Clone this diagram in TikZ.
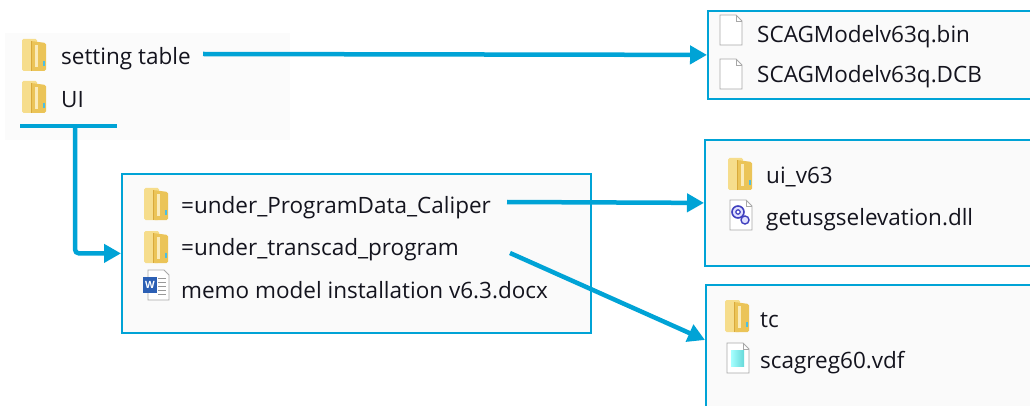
\documentclass[tikz,border=0pt]{standalone}
\usepackage{fontspec}
\setmainfont{Open Sans}
\usetikzlibrary{arrows.meta,calc}
\definecolor{lineblue}{HTML}{00A3D6}
\definecolor{boxbg}{HTML}{FAFAFA}
\definecolor{tlbg}{HTML}{FBFBFB}
\definecolor{foldA}{HTML}{F6DD8C}
\definecolor{foldB}{HTML}{EBC458}
\definecolor{foldC}{HTML}{D9A93A}
\definecolor{txt}{HTML}{14141E}
\definecolor{pagegray}{HTML}{A8A8A8}
\definecolor{wordblue}{HTML}{2B5FB4}
\tikzset{
  flabel/.style={anchor=base west, inner sep=0pt, font=\fontsize{22.5}{26}\selectfont, text=txt},
  boxnode/.style={draw=lineblue, line width=1.8pt, fill=boxbg, anchor=north west, inner sep=0pt},
  conn/.style={draw=lineblue, line width=4.5pt, rounded corners=4pt, -{Triangle[length=17pt,width=18pt]}},
  bar/.style={draw=lineblue, line width=4.5pt},
  folder/.pic={
    \fill[foldA, rounded corners=1.5pt] (-12,-16) rectangle (3,16);
    \fill[foldB, rounded corners=1.5pt] (-3,-14) -- (12,-12) -- (12,16) -- (-3,16) -- cycle;
    \fill[foldC] (-3.5,-14) rectangle (-2,16);
    \fill[foldA!60!white] (1,-10) rectangle (4,12);
    \fill[lineblue!70] (8.5,6) rectangle (10.5,11);
  },
  page/.pic={
    \draw[pagegray, fill=white, line width=0.9pt] (-11,-15) -- (5,-15) -- (11,-9) -- (11,15) -- (-11,15) -- cycle;
    \draw[pagegray, line width=0.9pt] (5,-15) -- (5,-9) -- (11,-9);
  },
  wordpage/.pic={
    \draw[pagegray, fill=white, line width=0.9pt] (-8,-15) -- (8,-15) -- (13,-10) -- (13,15) -- (-8,15) -- cycle;
    \foreach \yy in {-7,-3,1,5,9} \draw[gray!80, line width=0.8pt] (2,\yy) -- (10,\yy);
    \fill[wordblue] (-13,-8) rectangle (1,8);
    \node[text=white, font=\bfseries\fontsize{10}{10}\selectfont, inner sep=0pt] at (-6,0) {W};
  },
  dllpage/.pic={
    \draw[pagegray, fill=white, line width=0.9pt] (-11,-15) -- (5,-15) -- (11,-9) -- (11,15) -- (-11,15) -- cycle;
    \draw[pagegray, line width=0.9pt] (5,-15) -- (5,-9) -- (11,-9);
    \draw[blue!50!gray, line width=1.6pt, fill=blue!12] (-3,-3) circle (6);
    \draw[blue!50!gray, line width=1.2pt, fill=white] (-3,-3) circle (2.2);
    \draw[blue!50!gray, line width=1.4pt, fill=blue!12] (4,5) circle (4);
  },
  vdfpage/.pic={
    \draw[pagegray, fill=white, line width=0.9pt] (-11,-15) -- (5,-15) -- (11,-9) -- (11,15) -- (-11,15) -- cycle;
    \draw[pagegray, line width=0.9pt] (5,-15) -- (5,-9) -- (11,-9);
    \fill[left color=cyan!35!white, right color=teal!50!cyan!60] (-7,-8) rectangle (6,8);
  }
}
\begin{document}
\begin{tikzpicture}[x=1pt,y=-1pt]
\useasboundingbox (0,0) rectangle (1030,406);
\clip (0,0) rectangle (1030,406);
\fill[white] (0,0) rectangle (1030,406);

% top-left area
\node[fill=tlbg, anchor=north west, inner sep=0pt, minimum width=285pt, minimum height=107pt] (tl) at (5,33) {};
\pic at (34,55) {folder};
\pic at (34,97) {folder};
\node[flabel] (st) at (61,65) {setting table};
\node[flabel] (ui) at (61,108) {UI};

% boxes
\node[boxnode, minimum width=340pt, minimum height=88pt] (b1) at (707,10) {};
\node[boxnode, minimum width=469pt, minimum height=159pt] (b2) at (121,173) {};
\node[boxnode, minimum width=340pt, minimum height=126pt] (b3) at (704,139) {};
\node[boxnode, minimum width=340pt, minimum height=140pt] (b4) at (705,284) {};

% box 1
\pic at (731,30) {page};
\pic at (731,74) {page};
\node[flabel] (f1) at (757,43) {SCAGModelv63q.bin};
\node[flabel] (f2) at (757,83) {SCAGModelv63q.DCB};

% box 2
\pic at (156,204) {folder};
\pic at (156,247) {folder};
\pic at (156,285) {wordpage};
\node[flabel] (pd) at (181,213) {=under\_ProgramData\_Caliper};
\node[flabel] (tp) at (181,255) {=under\_transcad\_program};
\node[flabel] (memo) at (181,298) {memo model installation v6.3.docx};

% box 3
\pic at (740,174) {folder};
\pic at (741,215) {dllpage};
\node[flabel] (uv) at (766,183) {ui\_v63};
\node[flabel] (dll) at (766,225) {getusgselevation.dll};

% box 4
\pic at (737,316) {folder};
\pic at (738,358) {vdfpage};
\node[flabel] (tc) at (760,327) {tc};
\node[flabel] (vdf) at (760,368) {scagreg60.vdf};

% connectors
\coordinate (s1) at (203,54);
\draw[conn] (s1) -- (b1.west);
\coordinate (uiL) at (20,126);
\coordinate (uiR) at (117,126);
\coordinate (uiJ) at (75,126);
\draw[bar] (uiL) -- (uiR);
\draw[conn] (uiJ) |- (b2.west);
\coordinate (s3) at (507,202);
\draw[conn] (s3) -- (b3.west);
\coordinate (s4) at (510,253);
\coordinate (t4) at ($(b4.north west)+(0,56)$);
\draw[conn] (s4) -- (t4);
\end{tikzpicture}
\end{document}
